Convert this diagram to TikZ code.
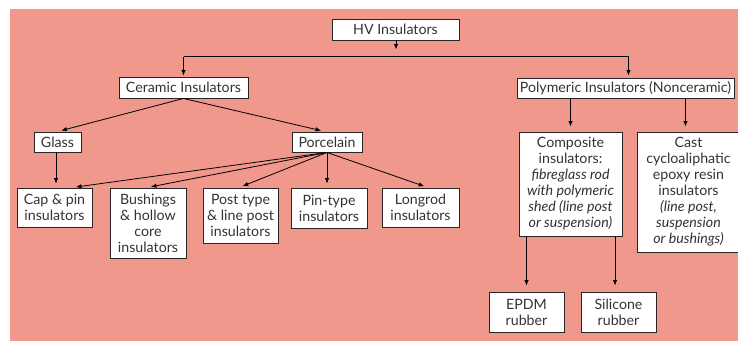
\documentclass[tikz,border=0pt]{standalone}
\usepackage{fontspec}
\setmainfont{Lato}
\usetikzlibrary{arrows.meta}
\definecolor{salmon}{HTML}{F1988C}
\tikzset{
  box/.style={draw=black!85, fill=white, line width=0.9pt, inner sep=0pt, align=center,
    text=black!80, font=\fontsize{14.2}{16}\selectfont},
  conn/.style={draw=black, line width=0.8pt},
  arr/.style={conn, -{Latex[length=5.5pt,width=4.5pt]}}
}
\begin{document}
\begin{tikzpicture}[x=1pt,y=-1pt]
\useasboundingbox (0,0) rectangle (738,340);
\clip (0,0) rectangle (738,340);
\fill[salmon] (10,9) rectangle (740,342);

\node[box, minimum width=127pt, minimum height=21pt] (hv) at (395.5,29.5) {HV Insulators};
\node[box, minimum width=129pt, minimum height=21pt] (ceramic) at (183.5,87.5) {Ceramic Insulators};
\node[box, minimum width=217pt, minimum height=20pt] (poly) at (625.5,88) {Polymeric Insulators (Nonceramic)};
\node[box, minimum width=47pt, minimum height=20pt] (glass) at (57.5,142) {Glass};
\node[box, minimum width=70pt, minimum height=20pt] (porcelain) at (327,142) {Porcelain};
\node[box, minimum width=75pt, minimum height=39pt] (cap) at (54.5,207.5) {Cap \& pin\\insulators};
\node[box, minimum width=76pt, minimum height=70pt] (bush) at (148,223) {Bushings\\\& hollow\\core\\insulators};
\node[box, minimum width=75pt, minimum height=55pt] (post) at (240.5,215.5) {Post type\\\& line post\\insulators};
\node[box, minimum width=76pt, minimum height=40pt] (pin) at (329,208) {Pin-type\\insulators};
\node[box, minimum width=77pt, minimum height=39pt] (longrod) at (420.5,207.5) {Longrod\\insulators};
\node[box, minimum width=103pt, minimum height=104pt] (comp) at (570.5,184) {Composite\\insulators:\\\textit{fibreglass rod}\\\textit{with polymeric}\\\textit{shed (line post}\\\textit{or suspension)}};
\node[box, minimum width=102pt, minimum height=120pt] (cast) at (688.5,192) {Cast\\cycloaliphatic\\epoxy resin\\insulators\\\textit{(line post,}\\\textit{suspension}\\\textit{or bushings)}};
\node[box, minimum width=75pt, minimum height=40pt] (epdm) at (526.5,312) {EPDM\\rubber};
\node[box, minimum width=75pt, minimum height=40pt] (sil) at (618.5,312) {Silicone\\rubber};

% HV to bus
\coordinate (hvend) at (396,49.5);
\coordinate (busL) at (183.5,56.5);
\coordinate (busR) at (628.5,56.5);
\draw[arr] (hv.south -| hvend) -- (hvend);
\draw[conn] (busL) -- (busR);
\draw[arr, shorten >=1pt] (busL) -- (ceramic.north);
\draw[arr, shorten >=2pt] (busR) -- (busR |- poly.north);

% Ceramic
\draw[arr, shorten >=4pt] (ceramic.south) -- (glass.north);
\draw[arr, shorten >=4pt] (ceramic.south) -- ([xshift=-2pt]porcelain.north);
\draw[arr, shorten >=4pt] ([xshift=-1.5pt]glass.south) -- ([xshift=-1.5pt]glass.south |- cap.north);

% Porcelain fan
\draw[arr, shorten >=4pt] (porcelain.south) -- ([xshift=17.5pt]cap.north);
\draw[arr, shorten >=4pt] (porcelain.south) -- ([xshift=-1pt]bush.north);
\draw[arr, shorten >=4pt] (porcelain.south) -- ([xshift=-1.5pt]post.north);
\draw[arr, shorten >=4pt] (porcelain.south) -- (porcelain.south |- pin.north);
\draw[arr, shorten >=4pt] (porcelain.south) -- ([xshift=7.5pt]longrod.north);

% Polymeric
\draw[arr, shorten >=5pt] (poly.south -| comp.north) -- (comp.north);
\coordinate (castx) at (685.5,0);
\draw[arr, shorten >=5pt] (poly.south -| castx) -- (castx |- cast.north);
\draw[arr, shorten >=6pt] (comp.south -| epdm.north) -- (epdm.north);
\coordinate (silx) at (615,0);
\draw[arr, shorten >=6pt] (comp.south -| silx) -- (silx |- sil.north);
\end{tikzpicture}
\end{document}
